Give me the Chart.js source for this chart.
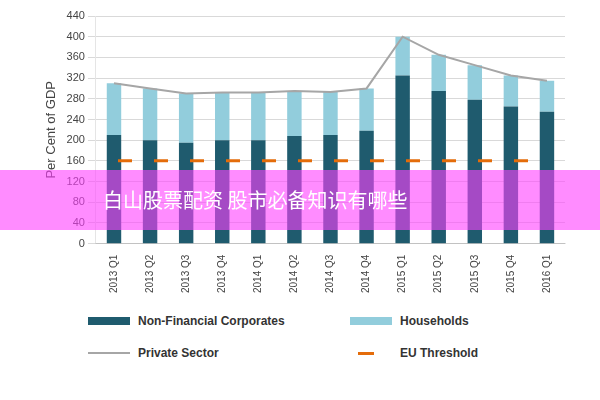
<!DOCTYPE html>
<html><head><meta charset="utf-8">
<script src="https://cdn.jsdelivr.net/npm/chart.js@4/dist/chart.umd.min.js"></script>
<style>
body{margin:0;width:600px;height:400px;background:#fff;font-family:"Liberation Sans",Arial,sans-serif;position:relative;overflow:hidden}
#wrap{position:absolute;left:0;top:0;width:600px;height:296px}
.leg{position:absolute;font-size:12px;font-weight:bold;color:#333;display:flex;align-items:center}
.sw{display:inline-block;margin-right:8px}
#banner{position:absolute;left:0;top:170px;width:600px;height:60px;background:rgba(255,64,255,0.6);color:#fff;font-family:"Noto Sans CJK SC";font-size:20px;line-height:60px;padding-left:103px;box-sizing:border-box}
</style></head><body>
<div id="wrap"><canvas id="c"></canvas></div>
<div class="leg" style="left:88px;top:314px"><span class="sw" style="width:42px;height:8px;background:#1f5b6e"></span>Non-Financial Corporates</div>
<div class="leg" style="left:350px;top:314px"><span class="sw" style="width:42px;height:8px;background:#92cddc"></span>Households</div>
<div class="leg" style="left:88px;top:346px"><span class="sw" style="width:42px;height:2px;background:#a6a6a6"></span>Private Sector</div>
<div class="leg" style="left:350px;top:346px"><span class="sw" style="width:42px;height:3px;background:linear-gradient(90deg,transparent 0 8px,#e46c0a 8px 24px,transparent 24px)"></span>EU Threshold</div>
<div id="banner">白山股票配资 股市必备知识有哪些</div>
<script>
// data
const quarters = ["2013 Q1","2013 Q2","2013 Q3","2013 Q4","2014 Q1","2014 Q2","2014 Q3","2014 Q4","2015 Q1","2015 Q2","2015 Q3","2015 Q4","2016 Q1"];
const corporates = [210,200,195,200,200,208,210,218,325,295,278,265,255];
const privateSector = [310,300,290,292,292,295,293,300,400,365,345,325,315];
const households = privateSector.map((t, i) => t - corporates[i]);
const threshold = quarters.map(() => 160);

new Chart(document.getElementById("c"), {
    type: "bar",
    data: {
        labels: quarters,
        datasets: [
            {type: "line", label: "EU Threshold", data: threshold, stack: "eu", borderColor: "#e46c0a", borderWidth: 3, borderDash: [14, 22], borderDashOffset: -4, pointRadius: 0, order: 0},
            {type: "line", label: "Private Sector", data: privateSector, stack: "ps", borderColor: "#a6a6a6", borderWidth: 2, pointRadius: 0, tension: 0, order: 1},
            {label: "Non-Financial Corporates", data: corporates, backgroundColor: "#1f5b6e", stack: "s", order: 2, categoryPercentage: 0.8, barPercentage: 0.5},
            {label: "Households", data: households, backgroundColor: "#92cddc", stack: "s", order: 2, categoryPercentage: 0.8, barPercentage: 0.5}
        ]
    },
    options: {
        responsive: true,
        maintainAspectRatio: false,
        animation: false,
        layout: {padding: {left: 40, right: 35, top: 16}},
        plugins: {legend: {display: false}, tooltip: {enabled: false}},
        scales: {
            x: {stacked: true, grid: {display: false}, ticks: {maxRotation: 90, minRotation: 90, color: "#444", font: {size: 10}}},
            y: {stacked: true, min: 0, max: 440, ticks: {stepSize: 40, color: "#444", font: {size: 11}},
                grid: {color: "#d9d9d9"},
                title: {display: true, text: "Per Cent of GDP", color: "#444", font: {size: 13}}}
        }
    }
});
</script>
</body></html>
